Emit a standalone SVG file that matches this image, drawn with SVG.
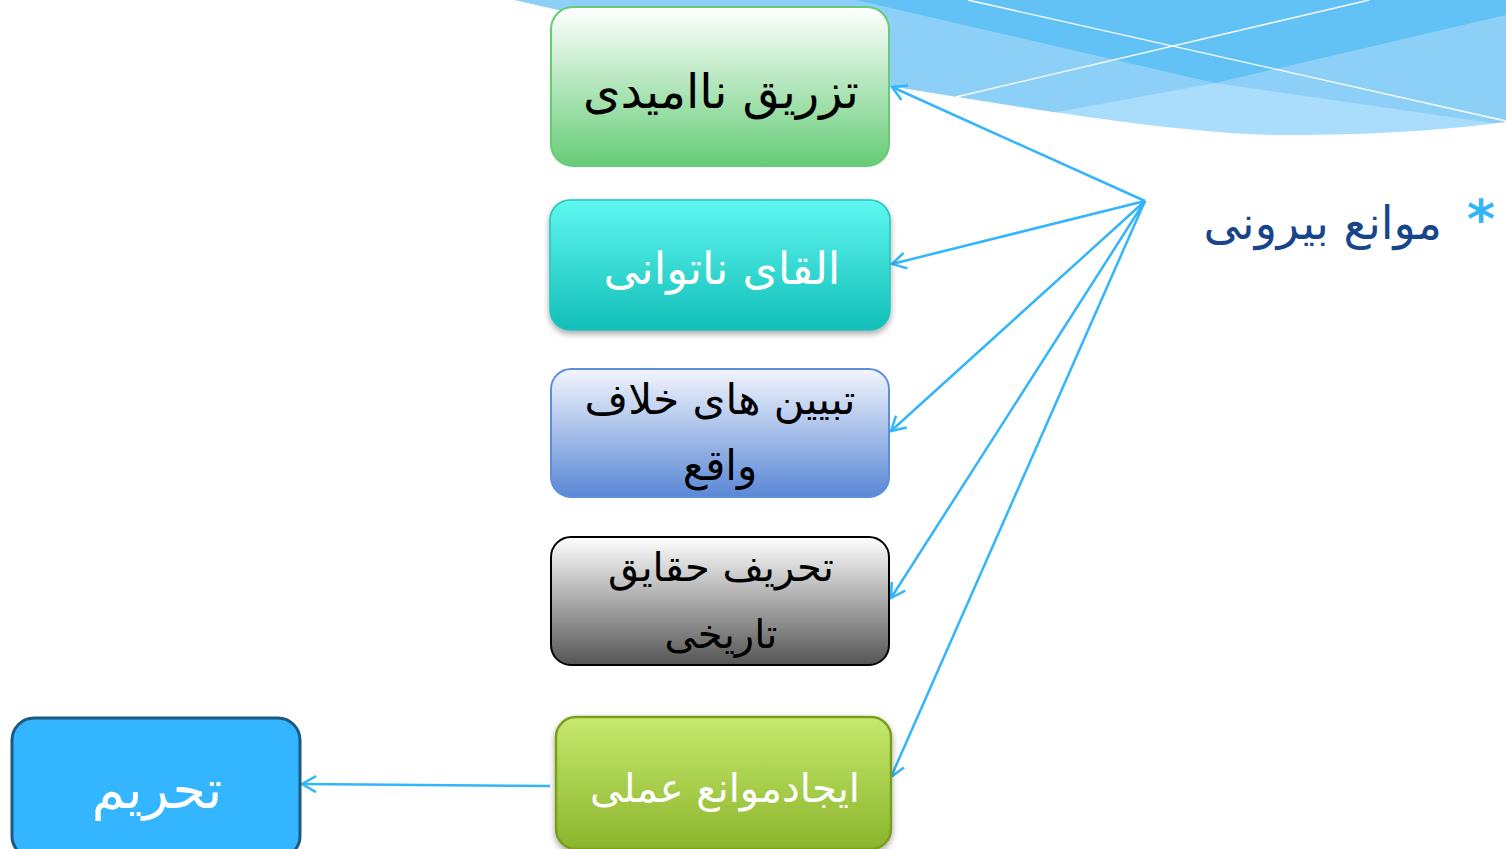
<svg xmlns="http://www.w3.org/2000/svg" width="1506" height="849" viewBox="0 0 1506 849">
<style>
.lbl{font-family:"DejaVu Sans",sans-serif;text-anchor:middle}
.conn{stroke:#33b5f9;stroke-width:2.5;fill:none;marker-end:url(#arr)}
</style>
<defs>
<marker id="arr" viewBox="0 0 18 18" refX="16" refY="9" markerWidth="18" markerHeight="18" markerUnits="userSpaceOnUse" orient="auto">
<path d="M2,1 L16,9 L2,17" fill="none" stroke="#33b5f9" stroke-width="2.5"/>
</marker>
<linearGradient id="g1" x1="0" y1="0" x2="0" y2="1"><stop offset="0" stop-color="#ffffff"/><stop offset="1" stop-color="#66cc77"/></linearGradient>
<linearGradient id="g2" x1="0" y1="0" x2="0" y2="1"><stop offset="0" stop-color="#5ef7f0"/><stop offset="1" stop-color="#12bfb8"/></linearGradient>
<linearGradient id="g3" x1="0" y1="0" x2="0" y2="1"><stop offset="0" stop-color="#f2f5fc"/><stop offset="1" stop-color="#5a87d6"/></linearGradient>
<linearGradient id="g4" x1="0" y1="0" x2="0" y2="1"><stop offset="0" stop-color="#ffffff"/><stop offset="1" stop-color="#555555"/></linearGradient>
<linearGradient id="g5" x1="0" y1="0" x2="0" y2="1"><stop offset="0" stop-color="#c6e96e"/><stop offset="1" stop-color="#8bb52c"/></linearGradient>
<filter id="sh" x="-10%" y="-10%" width="120%" height="130%"><feDropShadow dx="0" dy="3" stdDeviation="3" flood-color="#000" flood-opacity="0.35"/></filter>
<clipPath id="wave"><path d="M515,0 L1506,0 L1506,122 C1460,128 1400,134 1300,135 C1200,137 1050,112 890,86 Z"/></clipPath>
</defs>
<g id="background">
<g clip-path="url(#wave)">
<rect x="500" y="0" width="1006" height="150" fill="#a9ddfb"/>
<path d="M400,0 L1506,0 L1506,15 L1215,83 L1052,113 L700,190 L400,190 Z" fill="#8dd0f7"/>
<path d="M856,0 L1506,0 L1506,125 L1215,83 Z" fill="#8dd0f7"/>
<path d="M856,0 L1506,0 L1506,15 L1215,83 Z" fill="#63c2f5"/>
</g>
<line x1="968" y1="0" x2="1506" y2="121" stroke="#ffffff" stroke-width="1.3"/>
<line x1="956" y1="97" x2="1369" y2="0" stroke="#ffffff" stroke-width="1.3"/>
</g>
<g id="connectors">
<line class="conn" x1="1145" y1="201" x2="892" y2="87"/>
<line class="conn" x1="1145" y1="201" x2="892" y2="264"/>
<line class="conn" x1="1145" y1="201" x2="891" y2="431"/>
<line class="conn" x1="1145" y1="201" x2="891" y2="598"/>
<line class="conn" x1="1145" y1="201" x2="891" y2="777"/>
<line class="conn" x1="550" y1="786" x2="302" y2="784"/>
</g>
<g id="heading">
<text x="1481" y="238" font-family="DejaVu Sans,sans-serif" font-size="54" font-weight="bold" fill="#33b5f9" text-anchor="middle">*</text>
<text x="1442" y="239" font-family="DejaVu Sans,sans-serif" font-size="46" fill="#17448a" text-anchor="end">موانع بیرونی</text>
</g>
<g id="n1">
<rect x="551" y="7" width="338" height="159" rx="22" fill="url(#g1)" stroke="#66cc77" stroke-width="2"/>
<text class="lbl" x="721" y="108" font-size="48" fill="#000">تزریق ناامیدی</text>
</g>
<g id="n2">
<rect x="550" y="200" width="340" height="130" rx="20" fill="url(#g2)" stroke="#22c4bd" stroke-width="1.5" filter="url(#sh)"/>
<text class="lbl" x="722" y="284" font-size="45" fill="#ffffff">القای ناتوانی</text>
</g>
<g id="n3">
<rect x="551" y="369" width="338" height="128" rx="20" fill="url(#g3)" stroke="#5b8fdb" stroke-width="2"/>
<text class="lbl" x="720" y="414" font-size="42" fill="#000">تبیین های خلاف</text>
<text class="lbl" x="720" y="480" font-size="42" fill="#000">واقع</text>
</g>
<g id="n4">
<rect x="551" y="537" width="338" height="128" rx="20" fill="url(#g4)" stroke="#000" stroke-width="2"/>
<text class="lbl" x="721" y="581" font-size="40" fill="#000">تحریف حقایق</text>
<text class="lbl" x="721" y="648" font-size="40" fill="#000">تاریخی</text>
</g>
<g id="n5">
<rect x="556" y="717" width="335" height="132" rx="20" fill="url(#g5)" stroke="#7a9e1a" stroke-width="2.5" filter="url(#sh)"/>
<text class="lbl" x="725" y="802" font-size="40" fill="#ffffff">ایجادموانع عملی</text>
</g>
<g id="n6">
<rect x="12" y="718" width="288" height="140" rx="22" fill="#33b5ff" stroke="#1d5a80" stroke-width="3"/>
<text class="lbl" x="157" y="808" font-size="54" fill="#ffffff">تحریم</text>
</g>
</svg>
